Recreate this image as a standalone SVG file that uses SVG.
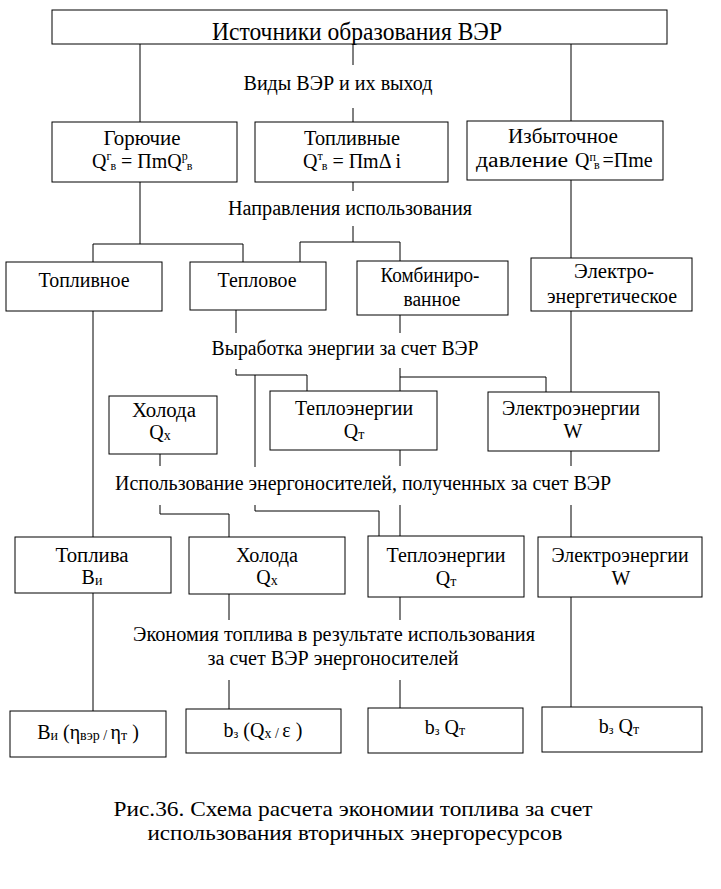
<svg xmlns="http://www.w3.org/2000/svg" width="721" height="889" viewBox="0 0 721 889" font-family="Liberation Serif, Times New Roman, serif" font-size="20">
<rect x="0" y="0" width="721" height="889" fill="#fff"/>
<g id="connectors" stroke="#000" stroke-width="1" fill="none">
<line x1="140" y1="44" x2="140" y2="122"/>
<line x1="353" y1="44" x2="353" y2="65"/>
<line x1="353" y1="108" x2="353" y2="122"/>
<line x1="571" y1="44" x2="571" y2="121"/>
<line x1="140" y1="182" x2="140" y2="244"/>
<polyline points="93,262 93,244 243,244 243,262"/>
<line x1="353" y1="182" x2="353" y2="191"/>
<line x1="353" y1="226" x2="353" y2="242"/>
<polyline points="300,262 300,242 400,242 400,261"/>
<line x1="571" y1="180" x2="571" y2="258"/>
<line x1="93" y1="311" x2="93" y2="537"/>
<line x1="93" y1="593" x2="93" y2="711"/>
<line x1="236" y1="310" x2="236" y2="333"/>
<polyline points="236,369 236,375 307,375 307,391"/>
<line x1="255" y1="375" x2="255" y2="467"/>
<polyline points="255,505 255,511 379,511 379,536"/>
<line x1="400" y1="315" x2="400" y2="333"/>
<line x1="400" y1="368" x2="400" y2="391"/>
<polyline points="400,377 546,377 546,392"/>
<line x1="571" y1="311" x2="571" y2="392"/>
<line x1="160" y1="454" x2="160" y2="466"/>
<polyline points="160,505 160,514 229,514 229,537"/>
<line x1="400" y1="450" x2="400" y2="466"/>
<line x1="400" y1="505" x2="400" y2="536"/>
<line x1="571" y1="451" x2="571" y2="466"/>
<line x1="571" y1="505" x2="571" y2="537"/>
<line x1="229" y1="594" x2="229" y2="620"/>
<line x1="229" y1="680" x2="229" y2="709"/>
<line x1="400" y1="597" x2="400" y2="620"/>
<line x1="400" y1="680" x2="400" y2="708"/>
<line x1="571" y1="597" x2="571" y2="707"/>
</g>
<g id="n-sources"><rect x="52" y="10" width="615" height="34" fill="#fff" stroke="#000"/><text style="font-family:'Liberation Serif',serif !important" text-anchor="middle" font-size="25" x="357" y="40" textLength="290" lengthAdjust="spacingAndGlyphs">Источники образования ВЭР</text></g>
<g id="l-vidy"><text style="font-family:'Liberation Serif',serif !important" text-anchor="middle" x="338" y="90" textLength="189" lengthAdjust="spacingAndGlyphs">Виды ВЭР и их выход</text></g>
<g id="n-goryuchie"><rect x="52" y="122" width="185" height="60" fill="#fff" stroke="#000"/>
<text style="font-family:'Liberation Serif',serif !important" text-anchor="middle" x="142" y="145" textLength="77" lengthAdjust="spacingAndGlyphs">Горючие</text>
<text style="font-family:'Liberation Serif',serif !important" x="92" y="168">Q<tspan font-size="12" dy="-8">г</tspan><tspan font-size="12" dy="10" dx="-1">в</tspan><tspan dy="-2"> = ПmQ</tspan><tspan font-size="12" dy="-8">р</tspan><tspan font-size="12" dy="10" dx="-1">в</tspan></text></g>
<g id="n-toplivnye"><rect x="255" y="122" width="193" height="60" fill="#fff" stroke="#000"/>
<text style="font-family:'Liberation Serif',serif !important" text-anchor="middle" x="352" y="145" textLength="96" lengthAdjust="spacingAndGlyphs">Топливные</text>
<text style="font-family:'Liberation Serif',serif !important" x="303" y="168">Q<tspan font-size="12" dy="-8">т</tspan><tspan font-size="12" dy="10" dx="-1">в</tspan><tspan dy="-2"> = ПmΔ i</tspan></text></g>
<g id="n-izbytochnoe"><rect x="467" y="121" width="196" height="59" fill="#fff" stroke="#000"/>
<text style="font-family:'Liberation Serif',serif !important" text-anchor="middle" x="563" y="143" textLength="110" lengthAdjust="spacingAndGlyphs">Избыточное</text>
<text style="font-family:'Liberation Serif',serif !important" x="476" y="167" textLength="92" lengthAdjust="spacingAndGlyphs">давление</text>
<text style="font-family:'Liberation Serif',serif !important" x="575" y="167">Q<tspan font-size="12" dy="-6">п</tspan><tspan font-size="12" dy="8" dx="-2">в</tspan><tspan dy="-2" dx="3">=Пme</tspan></text></g>
<g id="l-napravleniya"><text style="font-family:'Liberation Serif',serif !important" text-anchor="middle" x="350" y="215" textLength="244" lengthAdjust="spacingAndGlyphs">Направления использования</text></g>
<g id="n-toplivnoe"><rect x="6" y="262" width="156" height="49" fill="#fff" stroke="#000"/><text style="font-family:'Liberation Serif',serif !important" text-anchor="middle" x="84" y="287" textLength="91" lengthAdjust="spacingAndGlyphs">Топливное</text></g>
<g id="n-teplovoe"><rect x="190" y="262" width="136" height="48" fill="#fff" stroke="#000"/><text style="font-family:'Liberation Serif',serif !important" text-anchor="middle" x="257" y="287" textLength="79" lengthAdjust="spacingAndGlyphs">Тепловое</text></g>
<g id="n-kombinirovannoe"><rect x="357" y="261" width="151" height="54" fill="#fff" stroke="#000"/><text style="font-family:'Liberation Serif',serif !important" text-anchor="middle" x="430" y="282" textLength="99" lengthAdjust="spacingAndGlyphs">Комбиниро-</text><text style="font-family:'Liberation Serif',serif !important" text-anchor="middle" x="432" y="306" textLength="57" lengthAdjust="spacingAndGlyphs">ванное</text></g>
<g id="n-elektroenerg"><rect x="531" y="258" width="161" height="53" fill="#fff" stroke="#000"/><text style="font-family:'Liberation Serif',serif !important" text-anchor="middle" x="614" y="278" textLength="80" lengthAdjust="spacingAndGlyphs">Электро-</text><text style="font-family:'Liberation Serif',serif !important" text-anchor="middle" x="612" y="303" textLength="130" lengthAdjust="spacingAndGlyphs">энергетическое</text></g>
<g id="l-vyrabotka"><text style="font-family:'Liberation Serif',serif !important" text-anchor="middle" x="345" y="355" textLength="267" lengthAdjust="spacingAndGlyphs">Выработка энергии за счет ВЭР</text></g>
<g id="n-kholoda1"><rect x="109" y="396" width="108" height="58" fill="#fff" stroke="#000"/><text style="font-family:'Liberation Serif',serif !important" text-anchor="middle" x="164" y="417" textLength="64" lengthAdjust="spacingAndGlyphs">Холода</text><text style="font-family:'Liberation Serif',serif !important" text-anchor="middle" x="160" y="439">Q<tspan font-size="14" dy="1">х</tspan></text></g>
<g id="n-teplo1"><rect x="270" y="391" width="167" height="59" fill="#fff" stroke="#000"/><text style="font-family:'Liberation Serif',serif !important" text-anchor="middle" x="354" y="415" textLength="118" lengthAdjust="spacingAndGlyphs">Теплоэнергии</text><text style="font-family:'Liberation Serif',serif !important" text-anchor="middle" x="354" y="438">Q<tspan font-size="14" dy="1">т</tspan></text></g>
<g id="n-elektro1"><rect x="488" y="392" width="171" height="59" fill="#fff" stroke="#000"/><text style="font-family:'Liberation Serif',serif !important" text-anchor="middle" x="571" y="415" textLength="138" lengthAdjust="spacingAndGlyphs">Электроэнергии</text><text style="font-family:'Liberation Serif',serif !important" text-anchor="middle" x="573" y="438">W</text></g>
<g id="l-ispolzovanie"><text style="font-family:'Liberation Serif',serif !important" text-anchor="middle" x="363" y="490" textLength="496" lengthAdjust="spacingAndGlyphs">Использование энергоносителей, полученных за счет ВЭР</text></g>
<g id="n-topliva"><rect x="15" y="537" width="156" height="56" fill="#fff" stroke="#000"/><text style="font-family:'Liberation Serif',serif !important" text-anchor="middle" x="92" y="562" textLength="73" lengthAdjust="spacingAndGlyphs">Топлива</text><text style="font-family:'Liberation Serif',serif !important" text-anchor="middle" x="92" y="584">B<tspan font-size="14" dy="1">и</tspan></text></g>
<g id="n-kholoda2"><rect x="189" y="537" width="156" height="57" fill="#fff" stroke="#000"/><text style="font-family:'Liberation Serif',serif !important" text-anchor="middle" x="267" y="562" textLength="62" lengthAdjust="spacingAndGlyphs">Холода</text><text style="font-family:'Liberation Serif',serif !important" text-anchor="middle" x="267" y="584">Q<tspan font-size="14" dy="1">х</tspan></text></g>
<g id="n-teplo2"><rect x="368" y="536" width="156" height="61" fill="#fff" stroke="#000"/><text style="font-family:'Liberation Serif',serif !important" text-anchor="middle" x="446" y="562" textLength="119" lengthAdjust="spacingAndGlyphs">Теплоэнергии</text><text style="font-family:'Liberation Serif',serif !important" text-anchor="middle" x="446" y="585">Q<tspan font-size="14" dy="1">т</tspan></text></g>
<g id="n-elektro2"><rect x="538" y="537" width="164" height="60" fill="#fff" stroke="#000"/><text style="font-family:'Liberation Serif',serif !important" text-anchor="middle" x="620" y="562" textLength="137" lengthAdjust="spacingAndGlyphs">Электроэнергии</text><text style="font-family:'Liberation Serif',serif !important" text-anchor="middle" x="621" y="585">W</text></g>
<g id="l-ekonomiya"><text style="font-family:'Liberation Serif',serif !important" text-anchor="middle" x="334" y="641" textLength="402" lengthAdjust="spacingAndGlyphs">Экономия топлива в результате использования</text><text style="font-family:'Liberation Serif',serif !important" text-anchor="middle" x="333" y="665" textLength="251" lengthAdjust="spacingAndGlyphs">за счет ВЭР энергоносителей</text></g>
<g id="n-res1"><rect x="10" y="711" width="156" height="46" fill="#fff" stroke="#000"/><text style="font-family:'Liberation Serif',serif !important" text-anchor="middle" x="88" y="739">B<tspan font-size="14" dy="1">и</tspan><tspan dy="-1"> (η</tspan><tspan font-size="14" dy="1">вэр / </tspan><tspan dy="-1">η</tspan><tspan font-size="14" dy="1">т</tspan><tspan dy="-1"> )</tspan></text></g>
<g id="n-res2"><rect x="186" y="709" width="155" height="44" fill="#fff" stroke="#000"/><text style="font-family:'Liberation Serif',serif !important" text-anchor="middle" x="263" y="737">b<tspan font-size="12" dy="1">з</tspan><tspan dy="-1"> (Q</tspan><tspan font-size="14" dy="1">х / </tspan><tspan dy="-1">ε )</tspan></text></g>
<g id="n-res3"><rect x="368" y="708" width="155" height="45" fill="#fff" stroke="#000"/><text style="font-family:'Liberation Serif',serif !important" text-anchor="middle" x="445" y="734">b<tspan font-size="12" dy="1">з</tspan><tspan dy="-1"> Q</tspan><tspan font-size="14" dy="1">т</tspan></text></g>
<g id="n-res4"><rect x="542" y="707" width="160" height="45" fill="#fff" stroke="#000"/><text style="font-family:'Liberation Serif',serif !important" text-anchor="middle" x="619" y="733">b<tspan font-size="12" dy="1">з</tspan><tspan dy="-1"> Q</tspan><tspan font-size="14" dy="1">т</tspan></text></g>
<g id="caption"><text style="font-family:'Liberation Serif',serif !important" text-anchor="middle" font-size="21" x="353" y="816" textLength="479" lengthAdjust="spacingAndGlyphs">Рис.36. Схема расчета экономии топлива за счет</text><text style="font-family:'Liberation Serif',serif !important" text-anchor="middle" font-size="21" x="355" y="840" textLength="415" lengthAdjust="spacingAndGlyphs">использования вторичных энергоресурсов</text></g>
</svg>
